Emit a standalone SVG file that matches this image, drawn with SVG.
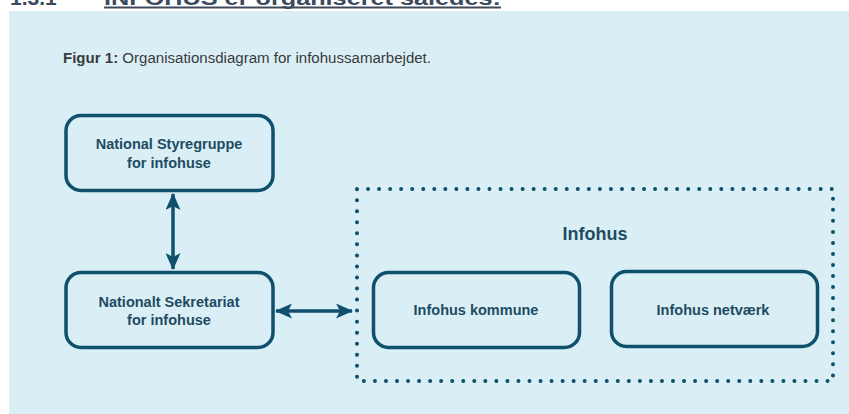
<svg xmlns="http://www.w3.org/2000/svg" width="849" height="414" viewBox="0 0 849 414">
<style>
.box{fill:none;stroke:#0f506c;stroke-width:3.5}
.lbl{font-family:"Liberation Sans",Arial,sans-serif;font-weight:bold;fill:#1f4b62;text-anchor:middle}
.conn{stroke:#0f506c;stroke-width:3.5;fill:none}
</style>
<defs>
<marker id="ah" viewBox="0 0 17 15" refX="16" refY="7.5" markerWidth="17" markerHeight="15" markerUnits="userSpaceOnUse" orient="auto-start-reverse">
<path d="M0,0 L17,7.5 L0,15 L4,7.5 Z" fill="#0f506c"/>
</marker>
</defs>
<rect x="0" y="0" width="849" height="414" fill="#ffffff"/>
<rect x="9" y="11" width="840" height="403" fill="#d9eff5"/>
<g id="header" font-family="Liberation Sans,Arial,sans-serif" font-weight="bold" font-size="21" fill="#3d4a5e">
<text x="10" y="5">1.3.1</text>
<text x="104" y="5" textLength="397" lengthAdjust="spacingAndGlyphs">INFOHUS er organiseret således:</text>
<rect x="104" y="6.5" width="397" height="2" fill="#3d4a5e"/>
</g>
<text id="caption" x="63" y="63" font-family="Liberation Sans,Arial,sans-serif" font-size="14" fill="#3a3a3a" textLength="368" lengthAdjust="spacingAndGlyphs"><tspan font-weight="bold">Figur 1:</tspan> Organisationsdiagram for infohussamarbejdet.</text>
<g id="group-infohus">
<rect x="357" y="189" width="476" height="192" fill="none" stroke="#0f506c" stroke-width="4" stroke-linecap="round" stroke-dasharray="0 11.04"/>
<text class="lbl" x="595" y="240" font-size="18">Infohus</text>
</g>
<g id="node-styregruppe">
<rect class="box" x="66" y="115.5" width="207" height="75" rx="15"/>
<text class="lbl" x="169" y="149" font-size="14.5">National Styregruppe</text>
<text class="lbl" x="169" y="168" font-size="14.5">for infohuse</text>
</g>
<g id="node-sekretariat">
<rect class="box" x="66" y="272.5" width="207" height="75" rx="15"/>
<text class="lbl" x="169" y="307" font-size="14.5">Nationalt Sekretariat</text>
<text class="lbl" x="169" y="325" font-size="14.5">for infohuse</text>
</g>
<g id="node-kommune">
<rect class="box" x="373.5" y="272.5" width="206" height="75" rx="15"/>
<text class="lbl" x="476" y="315" font-size="14.5">Infohus kommune</text>
</g>
<g id="node-netvaerk">
<rect class="box" x="611.5" y="271.5" width="206" height="75" rx="15"/>
<text class="lbl" x="713" y="315" font-size="14.5">Infohus netværk</text>
</g>
<g id="connectors">
<line class="conn" x1="173" y1="194" x2="173" y2="269" marker-start="url(#ah)" marker-end="url(#ah)"/>
<line class="conn" x1="276" y1="311" x2="352" y2="311" marker-start="url(#ah)" marker-end="url(#ah)"/>
</g>
</svg>
